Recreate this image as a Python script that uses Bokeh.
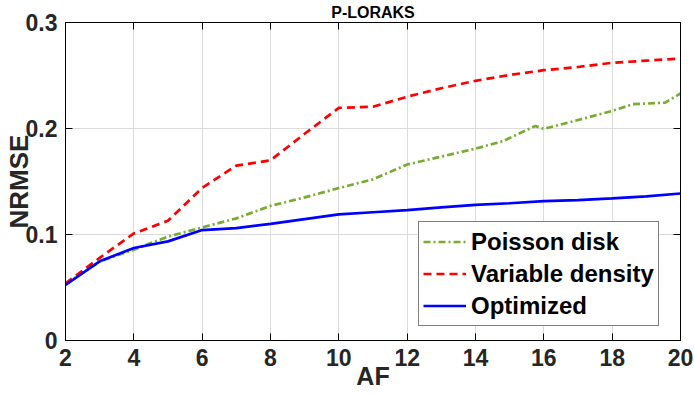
from bokeh.plotting import figure
from bokeh.models import Range1d, LinearAxis, FixedTicker, Legend, LegendItem
from bokeh.embed import file_html
from bokeh.resources import INLINE

# ---- data ----
af = [2, 3, 4, 5, 6, 7, 8, 9, 10, 11, 12, 13, 14, 15, 16, 17, 18, 19, 20]
variable_density = [0.054, 0.078, 0.101, 0.113, 0.144, 0.165, 0.170, 0.195, 0.2195, 0.2205,
                    0.230, 0.238, 0.245, 0.2505, 0.255, 0.258, 0.262, 0.264, 0.266]
optimized = [0.0524, 0.0747, 0.0873, 0.0935, 0.1042, 0.106, 0.110, 0.1145, 0.119, 0.121,
             0.123, 0.1255, 0.128, 0.1295, 0.1315, 0.1325, 0.134, 0.136, 0.1387]
poisson_af = [2, 3, 4, 5, 6, 7, 8, 9, 10, 11, 12, 13, 14, 14.8, 15.75, 16, 17, 18, 18.6, 19.55, 20]
poisson_disk = [0.053, 0.0745, 0.0857, 0.098, 0.1067, 0.1152, 0.127, 0.135, 0.1438, 0.152,
                0.166, 0.1735, 0.181, 0.188, 0.2024, 0.1996, 0.208, 0.2166, 0.2229, 0.2244, 0.233]

x_ticks = [2, 4, 6, 8, 10, 12, 14, 16, 18, 20]
y_ticks = [0, 0.1, 0.2, 0.3]
y_tick_labels = ["0", "0.1", "0.2", "0.3"]

title_text = "P-LORAKS"
x_label = "AF"
y_label = "NRMSE"
series_names = ["Poisson disk", "Variable density", "Optimized"]

FONT = "Liberation Sans"
TICK_COLOR = "#262626"

p = figure(width=694, height=394, x_range=Range1d(2, 20), y_range=Range1d(0, 0.3),
           output_backend="svg", toolbar_location=None,
           min_border_left=63, min_border_right=14, min_border_top=21, min_border_bottom=54)
p.background_fill_color = "white"
p.border_fill_color = "white"
p.outline_line_color = "black"
p.outline_line_width = 1

p.title.text = title_text
p.title.align = "center"
p.title.text_font = FONT
p.title.text_font_style = "bold"
p.title.text_font_size = "16px"
p.title.text_color = "black"
p.title.standoff = 3
p.title.offset = 0


def style_axis(ax, ticks, show_labels=True):
    ax.ticker = FixedTicker(ticks=ticks)
    ax.major_tick_in = 7
    ax.major_tick_out = 0
    ax.minor_tick_line_color = None
    ax.major_tick_line_color = "black"
    ax.major_tick_line_width = 1
    ax.axis_line_color = "black"
    if show_labels:
        ax.major_label_text_font = FONT
        ax.major_label_text_font_style = "bold"
        ax.major_label_text_font_size = "23px"
        ax.major_label_text_color = TICK_COLOR
        ax.axis_label_text_font = FONT
        ax.axis_label_text_font_style = "bold"
        ax.axis_label_text_color = TICK_COLOR
    else:
        ax.major_label_text_font_size = "0px"
        ax.major_label_text_color = None
        ax.major_label_standoff = 0


xax = p.xaxis[0]
yax = p.yaxis[0]
style_axis(xax, x_ticks)
style_axis(yax, y_ticks)
xax.major_label_standoff = 8
yax.major_label_standoff = 8
yax.major_label_overrides = {t: s for t, s in zip(y_ticks, y_tick_labels)}

xax.axis_label = x_label
xax.axis_label_text_font_size = "25px"
xax.axis_label_standoff = -7
yax.axis_label = y_label
yax.axis_label_text_font_size = "26px"
yax.axis_label_standoff = -11

top_ax = LinearAxis()
style_axis(top_ax, x_ticks, show_labels=False)
p.add_layout(top_ax, "above")
right_ax = LinearAxis()
style_axis(right_ax, y_ticks, show_labels=False)
p.add_layout(right_ax, "right")

p.xgrid.ticker = FixedTicker(ticks=x_ticks)
p.ygrid.ticker = FixedTicker(ticks=y_ticks)
for g in (p.xgrid, p.ygrid):
    g.grid_line_color = "#dcdcdc"
    g.grid_line_width = 1

r_poisson = p.line(poisson_af, poisson_disk, line_color="#77AC30", line_width=2.7,
                   line_dash="7 3 2 3")
r_variable = p.line(af, variable_density, line_color="#FF0000", line_width=2.7,
                    line_dash="8 5")
r_opt = p.line(af, optimized, line_color="#0000FF", line_width=2.7)

legend = Legend(items=[LegendItem(label=series_names[0], renderers=[r_poisson]),
                       LegendItem(label=series_names[1], renderers=[r_variable]),
                       LegendItem(label=series_names[2], renderers=[r_opt])],
                location=(353, 14))
legend.label_text_font = FONT
legend.label_text_font_style = "bold"
legend.label_text_font_size = "24px"
legend.label_text_color = "black"
legend.glyph_width = 43
legend.glyph_height = 31
legend.label_height = 31
legend.label_standoff = 5
legend.padding = 4
legend.spacing = 1
legend.margin = 0
legend.border_line_color = "black"
legend.border_line_width = 1
legend.background_fill_color = "white"
legend.background_fill_alpha = 1
p.add_layout(legend)

open("out.html", "w").write(file_html(p, INLINE))
